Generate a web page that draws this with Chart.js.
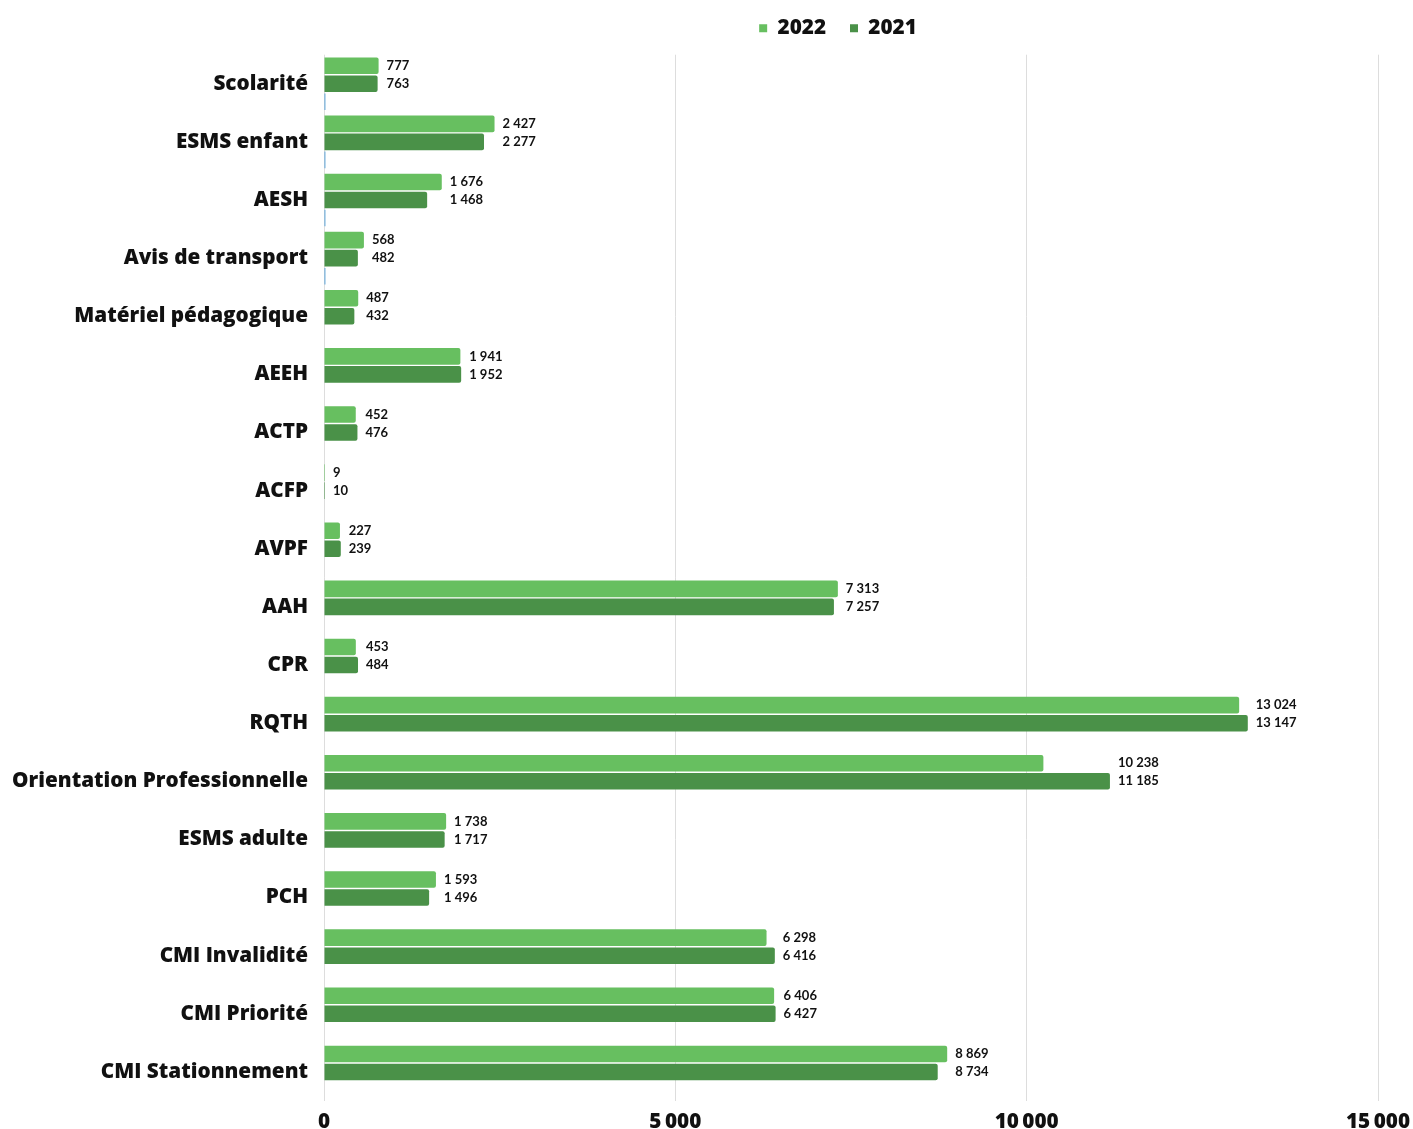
<!DOCTYPE html>
<html>
<head>
<meta charset="utf-8">
<script src="https://cdn.jsdelivr.net/npm/chart.js@4.4.1/dist/chart.umd.min.js"></script>
<style>
  html, body { margin: 0; padding: 0; background: #ffffff; }
  #wrap { width: 1413px; height: 1129px; position: relative; }
</style>
</head>
<body>
<div id="wrap"><canvas id="chart" width="1413" height="1129"></canvas></div>
<script>
// Categories of requests (top to bottom)
const categories = [
  "Scolarité", "ESMS enfant", "AESH", "Avis de transport", "Matériel pédagogique",
  "AEEH", "ACTP", "ACFP", "AVPF", "AAH", "CPR", "RQTH",
  "Orientation Professionnelle", "ESMS adulte", "PCH", "CMI Invalidité",
  "CMI Priorité", "CMI Stationnement"
];

// Yearly counts
const values2022 = [777, 2427, 1676, 568, 487, 1941, 452, 9, 227, 7313, 453, 13024, 10238, 1738, 1593, 6298, 6406, 8869];
const values2021 = [763, 2277, 1468, 482, 432, 1952, 476, 10, 239, 7257, 484, 13147, 11185, 1717, 1496, 6416, 6427, 8734];
// Thin third series, present only for the school-related rows
const valuesOther = [20, 20, 20, 20, null, null, null, null, null, null, null, null, null, null, null, null, null, null];

const seriesLabels = ["2022", "2021", ""];
const axisTicks = [0, 5000, 10000, 15000];

const fmt = n => String(n).replace(/\B(?=(\d{3})+(?!\d))/g, " ");
const fmtTick = n => String(n).replace(/\B(?=(\d{3})+(?!\d))/g, "\u2009");

// Value labels: both bars of a row share a left-aligned column after the longer bar
const valueLabels = {
  id: "valueLabels",
  afterDatasetsDraw(chart) {
    const ctx = chart.ctx;
    const m0 = chart.getDatasetMeta(0);
    const m1 = chart.getDatasetMeta(1);
    ctx.save();
    ctx.font = "bold 13px Lato";
    ctx.fillStyle = "#111111";
    ctx.textAlign = "left";
    ctx.textBaseline = "middle";
    for (let i = 0; i < categories.length; i++) {
      const b0 = m0.data[i], b1 = m1.data[i];
      const x = Math.max(b0.x, b1.x) + 8;
      ctx.fillText(fmt(values2022[i]), x, b0.y);
      ctx.fillText(fmt(values2021[i]), x, b1.y);
    }
    ctx.restore();
  }
};

// Moves the legend block to the right half of the header
const legendShift = {
  id: "legendShift",
  afterLayout(chart) {
    const l = chart.legend;
    if (!l) return;
    const dx = 838 - (l.left + l.right) / 2;
    const dy = -6;
    l.left += dx; l.right += dx;
    l.top += dy; l.bottom += dy;
  }
};

const labelFont = { family: "'Open Sans'", size: 20.7, weight: "800" };

new Chart(document.getElementById("chart"), {
  type: "bar",
  data: {
    labels: categories,
    datasets: [
      { label: seriesLabels[0], data: values2022, backgroundColor: "#67bf60", borderRadius: 2,
        minBarLength: 1, barPercentage: 0.92, categoryPercentage: 0.93 },
      { label: seriesLabels[1], data: values2021, backgroundColor: "#4a9148", borderRadius: 2,
        minBarLength: 1, barPercentage: 0.92, categoryPercentage: 0.93 },
      { label: seriesLabels[2], data: valuesOther, backgroundColor: "#4f9ed8",
        barPercentage: 0.92, categoryPercentage: 0.93 }
    ]
  },
  options: {
    indexAxis: "y",
    responsive: false,
    animation: false,
    layout: { padding: { left: 4, right: 0, top: 0, bottom: 0 } },
    plugins: {
      legend: {
        position: "top",
        labels: {
          filter: item => item.text !== "",
          boxWidth: 8,
          boxHeight: 8,
          padding: 24,
          color: "#111111",
          font: labelFont
        }
      },
      tooltip: { enabled: false }
    },
    scales: {
      x: {
        min: 0,
        max: 15000,
        afterBuildTicks(axis) { axis.ticks = axisTicks.map(v => ({ value: v })); },
        afterFit(scale) { scale.height = 28; scale.paddingRight = 35; scale.paddingLeft = 0; },
        grid: { color: "#dddddd", drawTicks: false },
        border: { display: false },
        ticks: {
          padding: 9,
          color: "#111111",
          font: labelFont,
          callback: v => fmtTick(v)
        }
      },
      y: {
        afterFit(scale) { scale.width = 320; scale.paddingTop = 0; scale.paddingBottom = 0; },
        grid: { display: false, drawTicks: false },
        border: { display: false },
        ticks: {
          padding: 16,
          color: "#111111",
          font: labelFont
        }
      }
    }
  },
  plugins: [valueLabels, legendShift]
});
</script>
</body>
</html>
